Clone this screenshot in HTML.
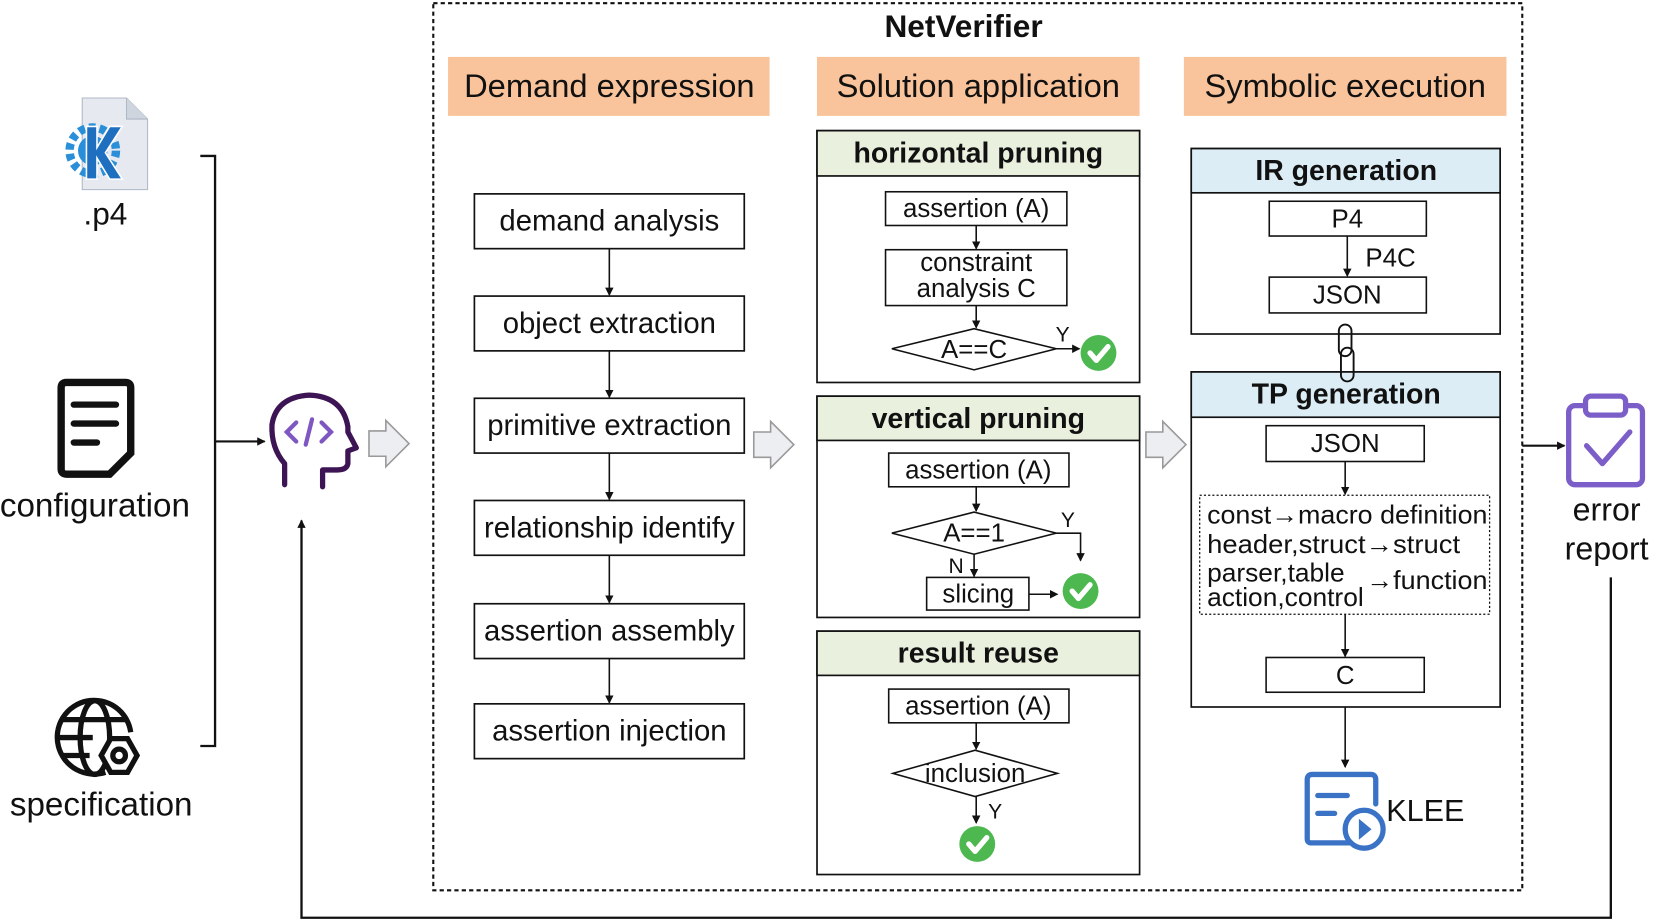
<!DOCTYPE html>
<html><head><meta charset="utf-8"><style>html,body{margin:0;padding:0;background:#fff}svg{display:block}</style></head><body>
<svg width="1653" height="923" viewBox="0 0 1568 876" preserveAspectRatio="none" xmlns="http://www.w3.org/2000/svg" font-family="Liberation Sans, Arial, sans-serif">
<defs>
<marker id="ah" markerWidth="8" markerHeight="8" refX="7" refY="4" orient="auto" markerUnits="userSpaceOnUse"><path d="M0,0 L8,4 L0,8 z" fill="#111"/></marker>
<g id="chk"><circle r="17" fill="#4cb84f"/><path d="M-8,0 L-2,7 L9,-6" stroke="#fff" stroke-width="5" fill="none" stroke-linecap="round" stroke-linejoin="round"/></g>
<g id="hollow"><path d="M0,-12 L16,-12 L16,-22 L38,0 L16,22 L16,12 L0,12 z" fill="#eceef2" stroke="#999" stroke-width="1.5"/></g>
</defs>
<g stroke="#111" stroke-width="1.6" fill="none">
<rect x="411" y="3" width="1033" height="842" stroke-dasharray="4,3" stroke-width="2"/>
</g>
<text x="914" y="35" font-size="30" font-weight="bold" text-anchor="middle" fill="#111">NetVerifier</text>
<g fill="#f9c49b"><rect x="425" y="54" width="305" height="56"/><rect x="775" y="54" width="306" height="56"/><rect x="1123" y="54" width="306" height="56"/></g>
<g font-size="31" text-anchor="middle" fill="#111"><text x="578" y="92">Demand expression</text><text x="928" y="92">Solution application</text><text x="1276" y="92">Symbolic execution</text></g>

<g stroke="#111" stroke-width="1.6" fill="#fff">
<rect x="450" y="184" width="256" height="52"/><rect x="450" y="281" width="256" height="52"/><rect x="450" y="378" width="256" height="52"/><rect x="450" y="475" width="256" height="52"/><rect x="450" y="573" width="256" height="52"/><rect x="450" y="668" width="256" height="52"/>
</g>
<g stroke="#111" stroke-width="1.5" marker-end="url(#ah)">
<line x1="578" y1="236" x2="578" y2="280"/><line x1="578" y1="333" x2="578" y2="377"/><line x1="578" y1="430" x2="578" y2="474"/><line x1="578" y1="527" x2="578" y2="572"/><line x1="578" y1="625" x2="578" y2="667"/>
</g>
<g font-size="27.8" text-anchor="middle" fill="#111">
<text x="578" y="219">demand analysis</text><text x="578" y="316">object extraction</text><text x="578" y="413">primitive extraction</text><text x="578" y="510">relationship identify</text><text x="578" y="608">assertion assembly</text><text x="578" y="703">assertion injection</text>
</g>

<use href="#hollow" x="350" y="421"/><use href="#hollow" x="715" y="422"/><use href="#hollow" x="1087" y="422"/>

<rect x="775" y="124" width="306" height="239" fill="#fff" stroke="#111" stroke-width="1.6"/>
<rect x="775" y="124" width="306" height="43" fill="#e9f0de" stroke="#111" stroke-width="1.6"/>
<text x="928" y="154" font-size="27" font-weight="bold" text-anchor="middle" fill="#111">horizontal pruning</text>
<g stroke="#111" stroke-width="1.5" fill="#fff">
<rect x="840" y="182" width="172" height="32"/><rect x="840" y="237" width="172" height="53"/>
<path d="M846,331 L924,312 L1002,331 L924,351 z"/>
</g>
<g stroke="#111" stroke-width="1.5" marker-end="url(#ah)"><line x1="926" y1="214" x2="926" y2="236"/><line x1="926" y1="290" x2="926" y2="311"/><line x1="1002" y1="331" x2="1024" y2="331"/></g>
<g font-size="24.5" text-anchor="middle" fill="#111"><text x="926" y="206">assertion (A)</text><text x="926" y="257">constraint</text><text x="926" y="282">analysis C</text><text x="924" y="340">A==C</text><text x="1008" y="324" font-size="20">Y</text></g>
<use href="#chk" x="1042" y="335"/>

<rect x="775" y="376" width="306" height="210" fill="#fff" stroke="#111" stroke-width="1.6"/>
<rect x="775" y="376" width="306" height="42" fill="#e9f0de" stroke="#111" stroke-width="1.6"/>
<text x="928" y="406" font-size="27" font-weight="bold" text-anchor="middle" fill="#111">vertical pruning</text>
<g stroke="#111" stroke-width="1.5" fill="#fff">
<rect x="843" y="430" width="171" height="32"/><rect x="879" y="548" width="97" height="31"/>
<path d="M846,506 L924,486 L1002,506 L924,526 z"/>
<polyline points="1002,506 1025,506 1025,532" fill="none" marker-end="url(#ah)"/>
</g>
<g stroke="#111" stroke-width="1.5" marker-end="url(#ah)"><line x1="926" y1="462" x2="926" y2="485"/><line x1="924" y1="526" x2="924" y2="547"/><line x1="976" y1="564" x2="1003" y2="564"/></g>
<g font-size="24.5" text-anchor="middle" fill="#111"><text x="928" y="454">assertion (A)</text><text x="924" y="514">A==1</text><text x="928" y="572">slicing</text><text x="1013" y="500" font-size="20">Y</text><text x="907" y="544" font-size="20">N</text></g>
<use href="#chk" x="1025" y="561"/>

<rect x="775" y="599" width="306" height="231" fill="#fff" stroke="#111" stroke-width="1.6"/>
<rect x="775" y="599" width="306" height="42" fill="#e9f0de" stroke="#111" stroke-width="1.6"/>
<text x="928" y="629" font-size="27" font-weight="bold" text-anchor="middle" fill="#111">result reuse</text>
<g stroke="#111" stroke-width="1.5" fill="#fff">
<rect x="843" y="654" width="171" height="32"/>
<path d="M847,734 L925,712 L1003,734 L925,756 z"/>
</g>
<g stroke="#111" stroke-width="1.5" marker-end="url(#ah)"><line x1="926" y1="686" x2="926" y2="711"/><line x1="926" y1="756" x2="926" y2="781"/></g>
<g font-size="24.5" text-anchor="middle" fill="#111"><text x="928" y="678">assertion (A)</text><text x="925" y="742">inclusion</text><text x="944" y="777" font-size="20">Y</text></g>
<use href="#chk" x="927" y="801"/>

<rect x="1130" y="141" width="293" height="176" fill="#fff" stroke="#111" stroke-width="1.6"/>
<rect x="1130" y="141" width="293" height="42" fill="#dcedf5" stroke="#111" stroke-width="1.6"/>
<text x="1277" y="171" font-size="27" font-weight="bold" text-anchor="middle" fill="#111">IR generation</text>
<g stroke="#111" stroke-width="1.5" fill="#fff"><rect x="1204" y="191" width="149" height="33"/><rect x="1204" y="263" width="149" height="34"/></g>
<line x1="1278" y1="224" x2="1278" y2="262" stroke="#111" stroke-width="1.5" marker-end="url(#ah)"/>
<g font-size="24.5" text-anchor="middle" fill="#111"><text x="1278" y="216">P4</text><text x="1278" y="288">JSON</text><text x="1319" y="253">P4C</text></g>

<rect x="1130" y="353" width="293" height="318" fill="#fff" stroke="#111" stroke-width="1.6"/>
<rect x="1130" y="353" width="293" height="43" fill="#dcedf5" stroke="#111" stroke-width="1.6"/>
<text x="1277" y="383" font-size="27" font-weight="bold" text-anchor="middle" fill="#111">TP generation</text>
<g fill="none" stroke="#111" stroke-width="1.8"><rect x="1270" y="308" width="12" height="30" rx="6"/><rect x="1272" y="330" width="12" height="32" rx="6"/></g>
<g stroke="#111" stroke-width="1.5" fill="#fff"><rect x="1201" y="404" width="150" height="34"/><rect x="1201" y="624" width="150" height="33"/></g>
<rect x="1138" y="470" width="275" height="113" fill="none" stroke="#111" stroke-width="1.2" stroke-dasharray="2,2"/>
<g stroke="#111" stroke-width="1.5" marker-end="url(#ah)"><line x1="1276" y1="438" x2="1276" y2="469"/><line x1="1276" y1="583" x2="1276" y2="623"/><line x1="1276" y1="671" x2="1276" y2="728"/></g>
<g font-size="24.5" fill="#111"><text x="1276" y="429" text-anchor="middle">JSON</text><text x="1276" y="649" text-anchor="middle">C</text></g>
<g font-size="25" fill="#111">
<text x="1145" y="497" textLength="266" lengthAdjust="spacingAndGlyphs">const→macro definition</text>
<text x="1145" y="525" textLength="240" lengthAdjust="spacingAndGlyphs">header,struct→struct</text>
<text x="1145" y="552">parser,table</text><text x="1145" y="575">action,control</text>
<text x="1296" y="559" textLength="115" lengthAdjust="spacingAndGlyphs">→function</text>
<text x="1315" y="779" font-size="29">KLEE</text></g>
<g fill="none" stroke="#3a73c6" stroke-width="5" stroke-linecap="round">
<path d="M1288,800 L1244,800 Q1240,800 1240,796 L1240,740 Q1240,735 1245,735 L1300,735 Q1305,735 1305,740 L1305,763"/>
<line x1="1250" y1="755" x2="1278" y2="755"/><line x1="1250" y1="772" x2="1266" y2="772"/>
<circle cx="1294" cy="787" r="18" fill="#fff"/>
</g>
<path d="M1289,777 L1301,787 L1289,797 z" fill="#3a73c6"/>

<g stroke="#111" stroke-width="2.2" fill="none"><polyline points="190,148 204,148 204,708 190,708"/></g>
<line x1="204" y1="419" x2="251" y2="419" stroke="#111" stroke-width="2" marker-end="url(#ah)"/>
<path d="M78,93 L120,93 L140,113 L140,180 L78,180 z" fill="#e6eaf0" stroke="#b0b8c4"/>
<path d="M120,93 L120,113 L140,113" fill="#cfd5de" stroke="#b0b8c4"/>
<circle cx="88" cy="143" r="22" fill="none" stroke="#2a8fd8" stroke-width="8" stroke-dasharray="6,4"/>
<circle cx="88" cy="143" r="14" fill="#2a8fd8"/>
<path d="M82,120 L92,120 L92,140 L104,120 L116,120 L100,145 L116,170 L104,170 L92,150 L92,170 L82,170 z" fill="#1e6fc0" stroke="#fff" stroke-width="1.5"/>
<text x="100" y="213" font-size="30" text-anchor="middle" fill="#111">.p4</text>
<path d="M58,368 Q58,363 63,363 L119,363 Q124,363 124,368 L124,430 L104,450 L63,450 Q58,450 58,445 z" fill="none" stroke="#111" stroke-width="7"/>
<g stroke="#111" stroke-width="6" stroke-linecap="round"><line x1="70" y1="384" x2="110" y2="384"/><line x1="70" y1="402" x2="110" y2="402"/><line x1="70" y1="420" x2="92" y2="420"/></g>
<text x="90" y="490" font-size="31.5" text-anchor="middle" fill="#111">configuration</text>
<g fill="none" stroke="#111" stroke-width="5">
<path d="M100,733 A35,35 0 1 1 124,695"/>
<ellipse cx="90" cy="700" rx="14" ry="35"/>
<line x1="55" y1="700" x2="88" y2="700"/><line x1="60" y1="683" x2="120" y2="683"/><line x1="60" y1="717" x2="85" y2="717"/>
<path d="M96,717 L105,701 L121,701 L130,717 L121,733 L105,733 z" fill="#fff"/>
<circle cx="113" cy="717" r="6"/>
</g>
<text x="96" y="774" font-size="31.5" text-anchor="middle" fill="#111">specification</text>
<g fill="none" stroke="#3d1454" stroke-width="5" stroke-linecap="round" stroke-linejoin="round">
<path d="M270,460 L270,440 Q257,425 258,403 Q262,377 293,375 Q325,376 330,405 L330,410 L338,425 L330,428 L330,440 Q329,446 320,446 L306,446 L306,462"/>
</g>
<g fill="none" stroke="#7e57c2" stroke-width="4" stroke-linecap="round"><polyline points="281,401 272,410 281,419"/><polyline points="305,401 314,410 305,419"/><line x1="296" y1="398" x2="290" y2="422"/></g>
<line x1="1444" y1="423" x2="1484" y2="423" stroke="#111" stroke-width="2" marker-end="url(#ah)"/>
<g fill="none" stroke="#7b5ec7" stroke-width="5" stroke-linejoin="round">
<rect x="1488" y="385" width="70" height="75" rx="6"/>
<rect x="1504" y="376" width="38" height="18" rx="5" fill="#fff"/>
<polyline points="1505,423 1520,440 1546,410" stroke-linecap="round"/>
</g>
<g font-size="30.5" text-anchor="middle" fill="#111"><text x="1524" y="494">error</text><text x="1524" y="531">report</text></g>
<polyline points="1528,548 1528,871 286,871 286,494" fill="none" stroke="#111" stroke-width="2.2" marker-end="url(#ah)"/>
</svg>
</body></html>
